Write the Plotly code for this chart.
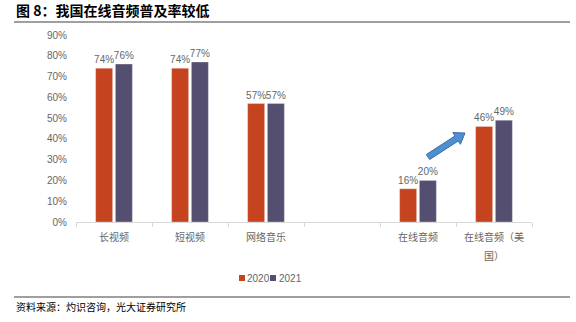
import math
import plotly.graph_objects as go

categories = ["长视频", "短视频", "网络音乐", " ", "在线音频", "在线音频（美国）"]
tick_labels = ["长视频", "短视频", "网络音乐", " ", "在线音频", "在线音频（美"]
tick_label_wrap = "国）"
y2020 = [0.74, 0.74, 0.57, None, 0.16, 0.46]
y2021 = [0.76, 0.77, 0.57, None, 0.20, 0.49]
series_names = ["2020", "2021"]

RED = "#C5441F"
PURPLE = "#544F70"
GREY = "#666666"
FONT = "Liberation Sans, Noto Sans CJK SC, sans-serif"

W, H = 576, 322
L, R, T, B = 76, 44, 35, 100
PW, PH = W - L - R, H - T - B


def px_to_paper(x, y):
    return (x - L) / PW, (H - B - y) / PH


fig = go.Figure()
colors = [RED, PURPLE]
for name, vals, col in zip(series_names, [y2020, y2021], colors):
    fig.add_trace(go.Bar(
        x=categories, y=vals, name=name,
        marker=dict(color=col, line=dict(color="rgba(255,255,255,0.6)", width=0.5)),
        text=[f"{v:.0%}" if v is not None else "" for v in vals],
        textposition="outside",
        textfont=dict(size=10, color=GREY, family=FONT),
        constraintext="none",
        cliponaxis=False,
        showlegend=False,
    ))

# second line of the wrapped last category label
_, wy = px_to_paper(0, 255)
fig.add_annotation(text=tick_label_wrap, xref="x", yref="paper", x=categories[-1], y=wy,
                   xanchor="center", yanchor="middle", showarrow=False,
                   font=dict(size=10, color=GREY, family="Noto Sans CJK SC"))

# block arrow pointing toward the US online-audio group
tail, tip = (428, 157), (465, 133)
dx, dy = tip[0] - tail[0], tip[1] - tail[1]
ln = math.hypot(dx, dy)
ux, uy = dx / ln, dy / ln
nx, ny = -uy, ux
shaft_w, head_w, head_len = 3.0, 7.0, 10.0
bx, by = tip[0] - ux * head_len, tip[1] - uy * head_len
pts = [
    (tail[0] + nx * shaft_w, tail[1] + ny * shaft_w),
    (bx + nx * shaft_w, by + ny * shaft_w),
    (bx + nx * head_w, by + ny * head_w),
    tip,
    (bx - nx * head_w, by - ny * head_w),
    (bx - nx * shaft_w, by - ny * shaft_w),
    (tail[0] - nx * shaft_w, tail[1] - ny * shaft_w),
]
path = "M " + " L ".join(
    "{:.4f},{:.4f}".format(*px_to_paper(x, y)) for x, y in pts) + " Z"
fig.add_shape(type="path", path=path, xref="paper", yref="paper",
              fillcolor="#4F8FCF", line=dict(color="#3A6EA5", width=1))

# title and source rules
for yy in (22, 297):
    x0, y0 = px_to_paper(14, yy)
    x1, _ = px_to_paper(570, yy)
    fig.add_shape(type="line", xref="paper", yref="paper", x0=x0, x1=x1, y0=y0, y1=y0,
                  line=dict(color="#404040", width=1.2))

tx, ty = px_to_paper(14, 10)
fig.add_annotation(text="<b>图 8：我国在线音频普及率较低</b>", xref="paper", yref="paper",
                   x=tx, y=ty, xanchor="left", yanchor="middle", showarrow=False,
                   font=dict(size=14, color="#000000", family="Noto Sans CJK SC"))
sx, sy = px_to_paper(14, 306)
fig.add_annotation(text="资料来源：灼识咨询，光大证券研究所", xref="paper", yref="paper",
                   x=sx, y=sy, xanchor="left", yanchor="middle", showarrow=False,
                   font=dict(size=10, color="#000000", family="Noto Sans CJK SC"))

# compact legend: small swatches followed by series names
legend_items = [(239, 245), (270, 277)]
for (sw_x, txt_x), name, col in zip(legend_items, series_names, colors):
    ax0, ay0 = px_to_paper(sw_x, 281)
    ax1, ay1 = px_to_paper(sw_x + 6, 275)
    fig.add_shape(type="rect", xref="paper", yref="paper", x0=ax0, x1=ax1, y0=ay0, y1=ay1,
                  fillcolor=col, line=dict(width=0))
    nx0, ny0 = px_to_paper(txt_x, 278)
    fig.add_annotation(text=name, xref="paper", yref="paper", x=nx0, y=ny0,
                       xanchor="left", yanchor="middle", showarrow=False,
                       font=dict(size=10, color=GREY, family=FONT))

fig.update_layout(
    width=W, height=H,
    margin=dict(l=L, r=R, t=T, b=B),
    paper_bgcolor="white", plot_bgcolor="white",
    barmode="group", bargap=0.48, bargroupgap=0.14,
    font=dict(family=FONT, color=GREY, size=10),
    showlegend=False,
    xaxis=dict(type="category", showline=True, linecolor="#D9D9D9", linewidth=1,
               ticks="outside", tickson="boundaries", ticklen=4, tickcolor="#D9D9D9",
               tickvals=categories, ticktext=tick_labels,
               ticklabelstandoff=6,
               tickfont=dict(size=10, color=GREY, family="Noto Sans CJK SC"),
               showgrid=False),
    yaxis=dict(range=[0, 0.9], dtick=0.1, tickformat=".0%", showgrid=False,
               showline=False, zeroline=False, ticks="", ticklabelstandoff=8,
               tickfont=dict(size=10, color=GREY)),
)

fig.write_html("out.html")
